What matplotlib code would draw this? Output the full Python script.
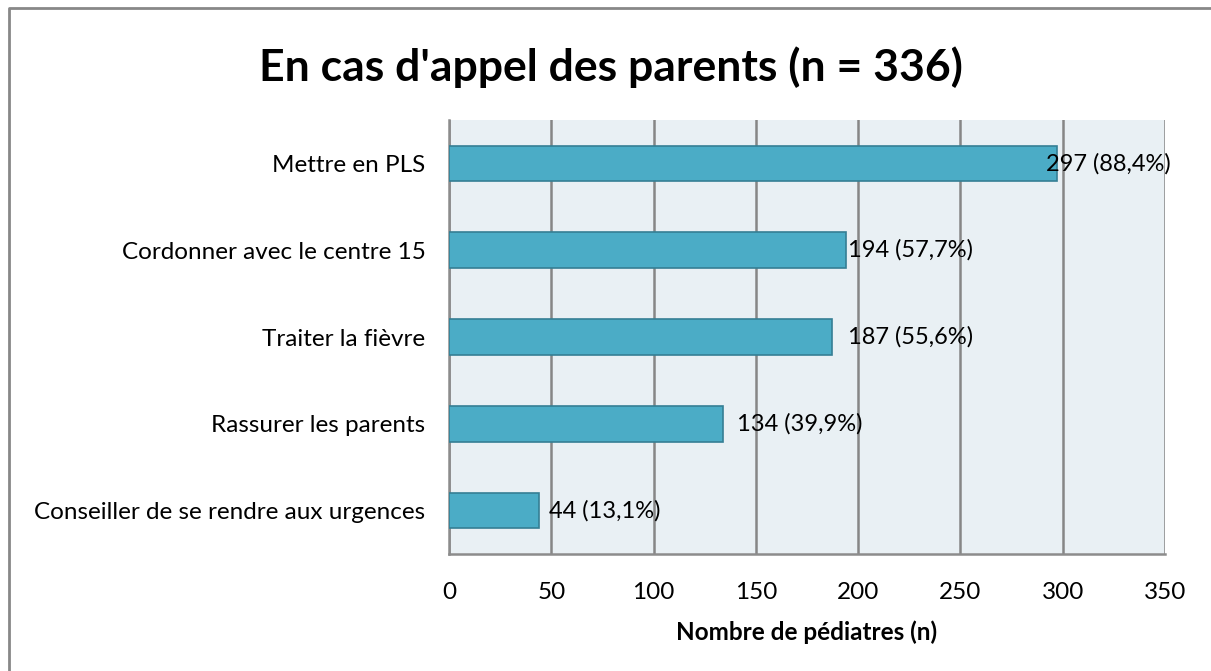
import matplotlib
matplotlib.use("Agg")
import matplotlib.pyplot as plt
from matplotlib.lines import Line2D

categories = ["Mettre en PLS", "Cordonner avec le centre 15", "Traiter la fièvre",
              "Rassurer les parents", "Conseiller de se rendre aux urgences"]
values = [297, 194, 187, 134, 44]
labels = ["297 (88,4%)", "194 (57,7%)", "187 (55,6%)", "134 (39,9%)", "44 (13,1%)"]
label_offsets = [-5, 1, 8, 7, 5]
xticks = [0, 50, 100, 150, 200, 250, 300, 350]

W, H = 1211, 671
plt.rcParams['font.family'] = ['Lato', 'DejaVu Sans']
fig = plt.figure(figsize=(W / 100, H / 100), dpi=100)

# outer border (only top and left visible)
bx, by = 8.5 / W, 1 - 7.5 / H
fig.lines.append(Line2D([bx, bx, 1.0], [0, by, by], transform=fig.transFigure,
                        color='#888888', linewidth=2))

left, right, top, bottom = 449, 1165, 120, 554
ax = fig.add_axes([left / W, 1 - bottom / H, (right - left) / W, (bottom - top) / H])
ax.set_facecolor('#E9F0F4')

y = list(range(len(categories)))
ax.barh(y, values, height=0.41, color='#4BACC6', edgecolor='#357F94', linewidth=1.2, zorder=3)
ax.set_ylim(len(categories) - 0.5, -0.5)
ax.set_xlim(0, 350)
ax.set_xticks(xticks)
ax.set_xticklabels([str(t) for t in xticks], fontsize=17.5)
ax.set_yticks(y)
ax.set_yticklabels(categories, fontsize=17.5)
ax.tick_params(axis='both', length=0)
ax.tick_params(axis='x', pad=20)
ax.tick_params(axis='y', pad=17)
ax.grid(axis='x', color='#868686', linewidth=1.8, zorder=1)
for s in ['top', 'right']:
    ax.spines[s].set_visible(False)
for s in ['left', 'bottom']:
    ax.spines[s].set_color('#8C8C8C')
    ax.spines[s].set_linewidth(1.8)

for i, (v, lab, off) in enumerate(zip(values, labels, label_offsets)):
    ax.text(v + off, i, lab, va='center', ha='left', fontsize=17, color='#000000', zorder=4)

ax.set_xlabel("Nombre de pédiatres (n)", fontsize=17.5, fontweight='bold', labelpad=13)
fig.text(611 / W, 1 - 67 / H, "En cas d'appel des parents (n = 336)", ha='center', va='center',
         fontsize=32, fontweight='bold')

fig.savefig("out.png", dpi=100)
